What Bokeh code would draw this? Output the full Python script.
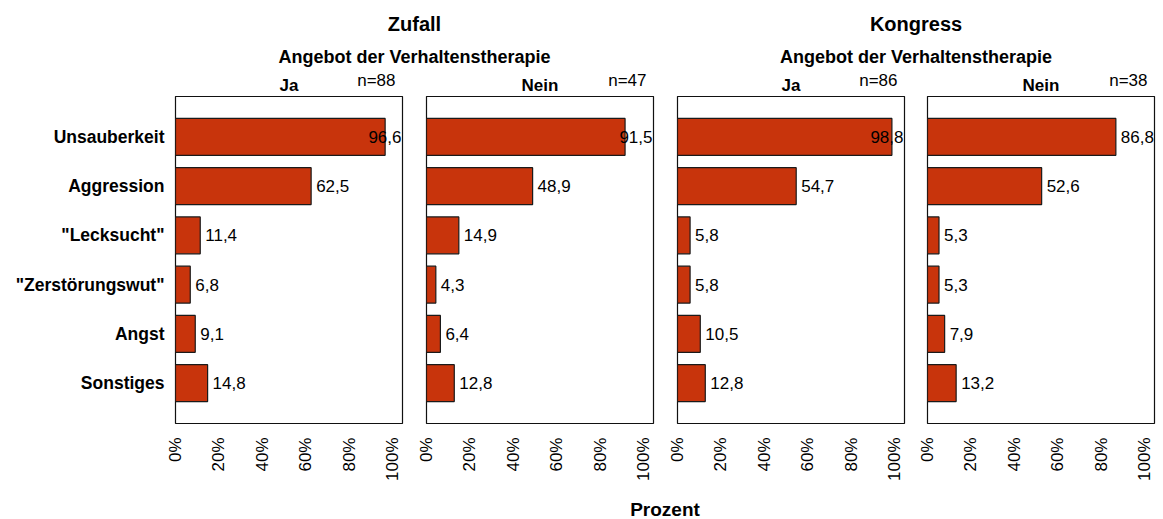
from math import pi
from bokeh.plotting import figure
from bokeh.models import Range1d, FixedTicker, ColumnDataSource
from bokeh.layouts import column, row
from bokeh.core.properties import value
from bokeh.embed import file_html
from bokeh.resources import INLINE

# ---------------- data ----------------
categories = ["Unsauberkeit", "Aggression", "\"Lecksucht\"", "\"Zerstörungswut\"", "Angst", "Sonstiges"]
groups = ["Zufall", "Kongress"]
subgroup_title = "Angebot der Verhaltenstherapie"
panel_labels = ["Ja", "Nein", "Ja", "Nein"]
panel_n = ["n=88", "n=47", "n=86", "n=38"]
zufall_ja = [96.6, 62.5, 11.4, 6.8, 9.1, 14.8]
zufall_nein = [91.5, 48.9, 14.9, 4.3, 6.4, 12.8]
kongress_ja = [98.8, 54.7, 5.8, 5.8, 10.5, 12.8]
kongress_nein = [86.8, 52.6, 5.3, 5.3, 7.9, 13.2]
x_ticks = [0, 20, 40, 60, 80, 100]
x_tick_labels = ["0%", "20%", "40%", "60%", "80%", "100%"]
x_axis_title = "Prozent"

series = [zufall_ja, zufall_nein, kongress_ja, kongress_nein]

# ---------------- style ----------------
FONT = "Liberation Sans"
BAR_COLOR = "#C8340C"
FRAME_W = 227
FRAME_H = 327
BOT_B = 70
XMAX = 104.6
Y_TOP, Y_BOT = -0.82, 5.82
lefts = [175, 12, 12, 12]
rights = [12, 12, 11, 9]
HEAD_H = 96
FOOT_H = 26


def fmt(v):
    return f"{v:.1f}".replace(".", ",")


def bare(w, h):
    f = figure(frame_width=w, frame_height=h, x_range=Range1d(0, w),
               y_range=Range1d(h, 0), x_axis_type=None, y_axis_type=None,
               min_border_left=0, min_border_right=0, min_border_top=0,
               min_border_bottom=0, title=None, toolbar_location=None,
               output_backend="svg")
    f.outline_line_color = None
    f.xgrid.visible = False
    f.ygrid.visible = False
    f.background_fill_color = "white"
    f.border_fill_color = "white"
    return f


def make_panel(i, vals):
    p = figure(frame_width=FRAME_W, frame_height=FRAME_H,
               x_range=Range1d(0, XMAX), y_range=Range1d(Y_BOT, Y_TOP),
               min_border_left=lefts[i], min_border_right=rights[i],
               min_border_top=0, min_border_bottom=BOT_B,
               title=None, toolbar_location=None, output_backend="svg")
    p.background_fill_color = "white"
    p.border_fill_color = "white"
    p.outline_line_color = "#111111"
    p.outline_line_width = 1.2
    p.xgrid.visible = False
    p.ygrid.visible = False

    idx = list(range(len(categories)))
    src = ColumnDataSource(dict(y=idx, v=vals))
    p.hbar(y="y", left=0, right="v", height=0.75, source=src,
           fill_color=BAR_COLOR, line_color="#1a1a1a", line_width=1.2)

    big = [k for k in idx if vals[k] > 90]
    small = [k for k in idx if vals[k] <= 90]
    s_small = ColumnDataSource(dict(x=[vals[k] for k in small], y=small,
                                    t=[fmt(vals[k]) for k in small]))
    s_big = ColumnDataSource(dict(x=[XMAX for k in big], y=big,
                                  t=[fmt(vals[k]) for k in big]))
    p.text(x="x", y="y", text="t", source=s_small, x_offset=5,
           text_align="left", text_baseline="middle",
           text_font=value(FONT), text_font_size="17px", text_color="black")
    p.text(x="x", y="y", text="t", source=s_big, x_offset=-1,
           text_align="right", text_baseline="middle",
           text_font=value(FONT), text_font_size="17px", text_color="black")

    xa = p.xaxis[0]
    xa.ticker = FixedTicker(ticks=x_ticks)
    xa.major_label_overrides = {t: l for t, l in zip(x_ticks, x_tick_labels)}
    xa.major_label_orientation = pi / 2
    xa.axis_line_color = None
    xa.major_tick_line_color = None
    xa.minor_tick_line_color = None
    xa.major_tick_out = 0
    xa.major_tick_in = 0
    xa.major_label_standoff = 14
    xa.major_label_text_font = FONT
    xa.major_label_text_font_size = "17px"
    xa.major_label_text_color = "black"

    ya = p.yaxis[0]
    if i == 0:
        ya.ticker = FixedTicker(ticks=idx)
        ya.major_label_overrides = {k: c for k, c in zip(idx, categories)}
        ya.axis_line_color = None
        ya.major_tick_line_color = None
        ya.minor_tick_line_color = None
        ya.major_tick_out = 0
        ya.major_tick_in = 0
        ya.major_label_standoff = 11
        ya.major_label_text_font = FONT
        ya.major_label_text_font_size = "17.5px"
        ya.major_label_text_font_style = "bold"
        ya.major_label_text_color = "black"
    else:
        ya.visible = False
    return p


panels = [make_panel(i, s) for i, s in enumerate(series)]

widths = [lefts[i] + FRAME_W + rights[i] for i in range(4)]
starts = [sum(widths[:i]) for i in range(4)]
frame_l = [starts[i] + lefts[i] for i in range(4)]
frame_r = [f + FRAME_W for f in frame_l]
TOTAL_W = sum(widths)

header = bare(TOTAL_W, HEAD_H)
gx = [(frame_l[0] + frame_r[1]) / 2, (frame_l[2] + frame_r[3]) / 2]
header.text(x=gx, y=[23, 23], text=groups, text_align="center", text_baseline="middle",
            text_font=value(FONT), text_font_size="20px", text_font_style="bold",
            text_color="black")
header.text(x=gx, y=[56.5, 56.5], text=[subgroup_title, subgroup_title],
            text_align="center", text_baseline="middle",
            text_font=value(FONT), text_font_size="18px", text_font_style="bold",
            text_color="black")
header.text(x=[(l + r) / 2 for l, r in zip(frame_l, frame_r)], y=[85] * 4, text=panel_labels,
            text_align="center", text_baseline="middle",
            text_font=value(FONT), text_font_size="17px", text_font_style="bold",
            text_color="black")
header.text(x=[r - 7 for r in frame_r], y=[80] * 4, text=panel_n,
            text_align="right", text_baseline="middle",
            text_font=value(FONT), text_font_size="17px", text_color="black")

footer = bare(TOTAL_W, FOOT_H)
footer.text(x=[(frame_l[0] + frame_r[3]) / 2], y=[15.5], text=[x_axis_title],
            text_align="center", text_baseline="middle",
            text_font=value(FONT), text_font_size="19px", text_font_style="bold",
            text_color="black")

layout = column(header, row(*panels, spacing=0), footer, spacing=0)

open("out.html", "w").write(file_html(layout, INLINE))
